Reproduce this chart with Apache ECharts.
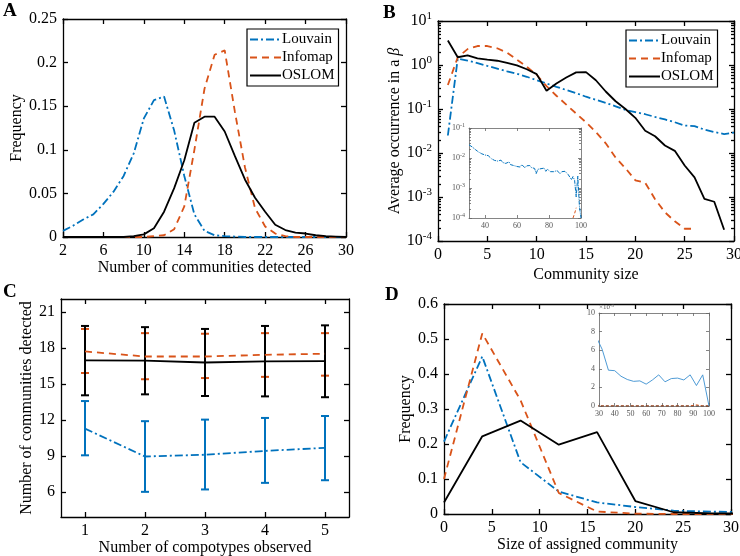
<!DOCTYPE html>
<html><head><meta charset="utf-8">
<script src="https://cdn.jsdelivr.net/npm/echarts@6/dist/echarts.min.js"></script>
<style>html,body{margin:0;padding:0;background:#fff}#c{width:740px;height:556px}</style>
</head><body><div id="c"></div>
<script>
// ---------- Panel A ----------
const aX = [2,3,4,5,6,7,8,9,10,11,12,13,14,15,16,17,18,19,20,21,22,23,24,25,26,27,28,29,30];
const aLouvain = [0.007,0.013,0.02,0.026,0.038,0.052,0.07,0.096,0.136,0.157,0.161,0.122,0.07,0.026,0.007,0.002,0.001,0.0005,0,0,0,0,0,0,0,0,0,0,0];
const aInfomap = [0,0,0,0,0,0,0,0,0,0.001,0.002,0.009,0.035,0.1,0.17,0.209,0.214,0.144,0.08,0.033,0.012,0.004,0.001,0,0,0,0,0,0];
const aOslom = [0,0,0,0,0,0,0,0.001,0.003,0.01,0.029,0.056,0.088,0.131,0.138,0.138,0.121,0.093,0.066,0.045,0.029,0.014,0.008,0.005,0.004,0.002,0.001,0.0005,0];
// ---------- Panel B ----------
const bX = [1,2,3,4,5,6,7,8,9,10,11,12,13,14,15,16,17,18,19,20,21,22,23,24,25,26,27,28,29,30];
const bLouvain = [0.025,1.40,1.26,1.10,0.955,0.83,0.72,0.63,0.54,0.45,0.38,0.32,0.27,0.23,0.19,0.162,0.138,0.115,0.095,0.085,0.076,0.066,0.058,0.050,0.042,0.041,0.034,0.030,0.027,0.029];
const bInfomap = [0.35,1.5,2.3,2.7,2.7,2.4,1.9,1.32,0.91,0.6,0.33,0.2,0.126,0.079,0.05,0.03,0.0166,0.0079,0.0045,0.0024,0.0021,0.00089,0.00045,0.00028,0.00019,0.00019];
const bOslom = [3.6,1.5,1.66,1.42,1.32,1.25,1.12,0.98,0.8,0.62,0.26,0.38,0.52,0.68,0.69,0.45,0.25,0.15,0.1,0.063,0.032,0.024,0.0148,0.0112,0.0052,0.0028,0.00091,0.00078,0.00018];
const bInsetX = [30,31,32,33,34,35,36,37,38,39,40,41,42,43,44,45,46,47,48,49,50,51,52,53,54,55,56,57,58,59,60,61,62,63,64,65,66,67,68,69,70,71,72,73,74,75,76,77,78,79,80,81,82,83,84,85,86,87,88,89,90,91,92,93,94,95,96,97,98,99,100];
const bInsetLouvain = [2.75e-2,2.51e-2,2.34e-2,2.09e-2,1.91e-2,1.78e-2,1.58e-2,1.66e-2,1.38e-2,1.32e-2,
  1.26e-2,1.12e-2,1.20e-2,1.05e-2,9.5e-3,1.0e-2,8.3e-3,8.9e-3,7.9e-3,7.6e-3,
  8.5e-3,7.1e-3,7.6e-3,6.6e-3,6.3e-3,7.4e-3,6.0e-3,6.8e-3,5.6e-3,6.3e-3,
  5.2e-3,5.8e-3,5.0e-3,6.0e-3,5.4e-3,4.7e-3,5.5e-3,5.0e-3,5.6e-3,4.8e-3,
  5.2e-3,4.5e-3,3.0e-3,4.2e-3,3.8e-3,4.4e-3,4.0e-3,4.6e-3,3.6e-3,4.2e-3,
  3.8e-3,3.5e-3,4.0e-3,3.5e-3,3.2e-3,3.8e-3,3.4e-3,3.0e-3,3.5e-3,3.3e-3,
  3.6e-3,3.2e-3,2.8e-3,3.2e-3,1.9e-3,2.4e-3,1.8e-3,5.0e-4,2.5e-3,2.5e-4,
  1.0e-4];
const bInsetInfomapX = [95,96,97];
const bInsetInfomap = [1.0e-4,1.4e-4,2.2e-4];
const bInsetXTicks = [40,60,80,100];
// ---------- Panel C ----------
const cX = [1,2,3,4,5];
const cLouvainMean = [11.28,8.95,9.1,9.42,9.67];
const cLouvainLow  = [9.05,6.0,6.2,6.75,6.97];
const cLouvainHigh = [13.58,11.9,12.03,12.17,12.33];
const cInfomapMean = [17.72,17.3,17.3,17.44,17.53];
const cInfomapLow  = [15.92,15.4,15.5,15.6,15.7];
const cInfomapHigh = [19.6,19.25,19.2,19.25,19.25];
const cOslomMean = [16.97,16.95,16.8,16.9,16.92];
const cOslomLow  = [14.06,14.14,14.0,13.97,13.9];
const cOslomHigh = [19.85,19.75,19.6,19.85,19.9];
const cYTicks = [6,9,12,15,18,21];
// ---------- Panel D ----------
const dX = [0,4,8,12,16,20,24,28,32];
const dLouvain = [0.207,0.45,0.148,0.064,0.033,0.02,0.0095,0.0065,0.006];
const dInfomap = [0.1,0.516,0.325,0.06,0.007,0.001,0,0,0];
const dOslom = [0.033,0.222,0.267,0.198,0.234,0.037,0.005,0.002,0.001];
const dInsetX = [28,32,36,40,44,48,52,56,60,64,68,72,76,80,84,88,92,96,100];
const dInsetLouvain = [7.5,6.1,3.85,3.8,3.2,2.85,2.65,2.7,2.35,2.8,3.35,2.6,2.95,3.0,2.8,3.35,2.2,3.35,0];
const dInsetInfomap = [0,0,0,0,0,0,0,0,0,0,0,0,0,0,0,0,0.12,0,0];
const dInsetOslom = [0,0,0,0,0,0,0,0,0,0,0,0,0,0,0,0,0,0,0];

const names = ['Louvain','Infomap','OSLOM'];
const FONT = 'Liberation Serif';
const BLUE = '#0072BD', ORANGE = '#D95319', BLACK = '#000000';
const DASHDOT = [8,3,2,3], DASHED = [7,5];

function pairs(xs, ys){ return ys.map((y,i)=>[xs[i], y]); }
function minorLog(lo, hi){ const out=[]; for(let e=lo;e<hi;e++){ for(let k=2;k<=9;k++) out.push(k*Math.pow(10,e)); } return out; }

const lineCol = {color:'#000', width:1.3};
function mainAxis(extra){
  return Object.assign({
    axisLine:{show:true,onZero:false,lineStyle:lineCol},
    axisTick:{show:true,inside:true,length:5,lineStyle:lineCol},
    axisLabel:{color:'#000',fontFamily:FONT,fontSize:16,margin:6},
    splitLine:{show:false},
    nameLocation:'middle',
    nameTextStyle:{color:'#000',fontFamily:FONT,fontSize:16}
  }, extra);
}
function mirror(base, pos){
  const o = JSON.parse(JSON.stringify(base));
  o.position = pos; o.name = '';
  o.axisLabel = Object.assign({}, o.axisLabel, {show:false});
  if (base.axisLabel && base.axisLabel.formatter) delete o.axisLabel.formatter;
  return o;
}
const insetCol = {color:'#666', width:0.8};
function insetAxis(extra){
  return Object.assign({
    z:6,
    axisLine:{show:true,onZero:false,lineStyle:insetCol},
    axisTick:{show:true,inside:true,length:3,lineStyle:insetCol},
    axisLabel:{color:'#555',fontFamily:FONT,fontSize:8,margin:4},
    splitLine:{show:false}
  }, extra);
}
const sup = (v)=>'{b|10}{s|' + Math.round(Math.log10(v)) + '}';

// x axes
const xA = mainAxis({gridIndex:0,type:'value',min:2,max:30,interval:4,name:'Number of communities detected',nameGap:22,position:'bottom'});
const xB = mainAxis({gridIndex:1,type:'value',min:0,max:30,interval:5,name:'Community size',nameGap:26,position:'bottom'});
const xC = mainAxis({gridIndex:2,type:'value',min:0.6,max:5.4,name:'Number of compotypes observed',nameGap:20,position:'bottom'});
xC.axisLabel.customValues = cX; xC.axisTick.customValues = cX;
const xD = mainAxis({gridIndex:3,type:'value',min:0,max:30,interval:5,name:'Size of assigned community',nameGap:22,position:'bottom'});
const xBi = insetAxis({gridIndex:4,type:'value',min:30,max:100,position:'bottom'});
xBi.axisLabel.customValues = bInsetXTicks; xBi.axisTick.customValues = bInsetXTicks;
const xDi = insetAxis({gridIndex:5,type:'value',min:30,max:100,interval:10,position:'bottom'});

// y axes
const yA = mainAxis({gridIndex:0,type:'value',min:0,max:0.25,interval:0.05,name:'Frequency',nameGap:37,position:'left'});
const yB = mainAxis({gridIndex:1,type:'log',logBase:10,min:1e-4,max:10,name:'Average occurrence in a {i|β}',nameGap:34,position:'left'});
yB.axisLabel.formatter = sup;
yB.axisLabel.rich = {b:{fontFamily:FONT,fontSize:16,color:'#000'}, s:{fontFamily:FONT,fontSize:11,color:'#000',verticalAlign:'top',padding:[0,0,9,0]}};
yB.nameTextStyle.rich = {i:{fontFamily:FONT,fontSize:16,fontStyle:'italic',color:'#000'}};
const yBminor = mainAxis({gridIndex:1,type:'log',logBase:10,min:1e-4,max:10,position:'left'});
yBminor.axisLine.show = false; yBminor.axisLabel = {show:false}; yBminor.axisTick.length = 3; yBminor.axisTick.customValues = minorLog(-4,1);
const yC = mainAxis({gridIndex:2,type:'value',min:3.9,max:22.1,name:'Number of communities detected',nameGap:23,position:'left'});
yC.axisLabel.customValues = cYTicks; yC.axisTick.customValues = cYTicks;
const yD = mainAxis({gridIndex:3,type:'value',min:0,max:0.6,interval:0.1,name:'Frequency',nameGap:30,position:'left'});
const yBi = insetAxis({gridIndex:4,type:'log',logBase:10,min:1e-4,max:1e-1,position:'left'});
yBi.axisLabel.formatter = sup;
yBi.axisLabel.rich = {b:{fontFamily:FONT,fontSize:8,color:'#555'}, s:{fontFamily:FONT,fontSize:6,color:'#555',verticalAlign:'top',padding:[0,0,5,0]}};
const yBiMinor = insetAxis({gridIndex:4,type:'log',logBase:10,min:1e-4,max:1e-1,position:'left'});
yBiMinor.axisLine.show = false; yBiMinor.axisLabel = {show:false}; yBiMinor.axisTick.length = 2; yBiMinor.axisTick.customValues = minorLog(-4,-1);
const yDi = insetAxis({gridIndex:5,type:'value',min:0,max:10,interval:2,position:'left',name:'{a|×10}{s|-3}',nameLocation:'end',nameGap:1,
  nameTextStyle:{align:'left',rich:{a:{fontFamily:FONT,fontSize:7,color:'#555'},s:{fontFamily:FONT,fontSize:5,color:'#555',verticalAlign:'top',padding:[0,0,4,0]}}}});

const xAxes = [xA, mirror(xA,'top'), xB, mirror(xB,'top'), xC, mirror(xC,'top'), xD, mirror(xD,'top'), xBi, mirror(xBi,'top'), xDi, mirror(xDi,'top')];
const yAxes = [yA, mirror(yA,'right'), yB, mirror(yB,'right'), yBminor, mirror(yBminor,'right'), yC, mirror(yC,'right'), yD, mirror(yD,'right'),
  yBi, mirror(yBi,'right'), yBiMinor, mirror(yBiMinor,'right'), yDi, mirror(yDi,'right')];

function line(name, data, color, dash, xi, yi, w, z){
  return {type:'line', name, data, xAxisIndex:xi, yAxisIndex:yi, symbol:'none', smooth:false, z:z||2,
    lineStyle:{color, width:w||1.8, type:dash||'solid'}, itemStyle:{color}, emphasis:{disabled:true}};
}
function errBars(name, color, lows, highs, yi){
  return {type:'custom', name, xAxisIndex:4, yAxisIndex:yi, z:2,
    data: cX.map((x,i)=>[x, lows[i], highs[i]]), encode:{x:0,y:[1,2]},
    renderItem:(params, api)=>{
      const x = api.value(0);
      const p1 = api.coord([x, api.value(1)]), p2 = api.coord([x, api.value(2)]);
      const w = 4, st = {stroke:color, lineWidth:2};
      return {type:'group', children:[
        {type:'line', shape:{x1:p1[0],y1:p1[1],x2:p2[0],y2:p2[1]}, style:st},
        {type:'line', shape:{x1:p1[0]-w,y1:p1[1],x2:p1[0]+w,y2:p1[1]}, style:st},
        {type:'line', shape:{x1:p2[0]-w,y1:p2[1],x2:p2[0]+w,y2:p2[1]}, style:st}]};
    }};
}

const series = [
  line('Louvain', pairs(aX,aLouvain), BLUE, DASHDOT, 0, 0),
  line('Infomap', pairs(aX,aInfomap), ORANGE, DASHED, 0, 0),
  line('OSLOM', pairs(aX,aOslom), BLACK, 'solid', 0, 0),
  line('Louvain', pairs(bX,bLouvain), BLUE, DASHDOT, 2, 2),
  line('Infomap', pairs(bX,bInfomap), ORANGE, DASHED, 2, 2),
  line('OSLOM', pairs(bX,bOslom), BLACK, 'solid', 2, 2),
  errBars('errL', BLUE, cLouvainLow, cLouvainHigh, 6),
  errBars('errI', ORANGE, cInfomapLow, cInfomapHigh, 6),
  errBars('errO', BLACK, cOslomLow, cOslomHigh, 6),
  line('Louvain', pairs(cX,cLouvainMean), BLUE, DASHDOT, 4, 6, 1.8, 3),
  line('Infomap', pairs(cX,cInfomapMean), ORANGE, DASHED, 4, 6, 1.8, 3),
  line('OSLOM', pairs(cX,cOslomMean), BLACK, 'solid', 4, 6, 1.8, 3),
  line('Louvain', pairs(dX,dLouvain), BLUE, DASHDOT, 6, 8),
  line('Infomap', pairs(dX,dInfomap), ORANGE, DASHED, 6, 8),
  line('OSLOM', pairs(dX,dOslom), BLACK, 'solid', 6, 8),
  line('Louvain', pairs(bInsetX,bInsetLouvain), BLUE, [4,1,1,1], 8, 10, 1, 7),
  line('Infomap', pairs(bInsetInfomapX,bInsetInfomap), ORANGE, [3,2], 8, 10, 1, 7),
  line('OSLOM', pairs(dInsetX,dInsetOslom), BLACK, [3,2], 10, 14, 1, 7),
  line('Infomap', pairs(dInsetX,dInsetInfomap), ORANGE, [3,2], 10, 14, 1, 7),
  line('Louvain', pairs(dInsetX,dInsetLouvain), '#3a8fd0', 'solid', 10, 14, 0.9, 8)
];

const legendBase = {data:names, orient:'vertical', itemWidth:31, itemHeight:15, itemGap:3, padding:[3,4,3,2],
  borderColor:'#000', borderWidth:1.2, borderRadius:0, backgroundColor:'#fff', selectedMode:false,
  itemStyle:{color:'rgba(0,0,0,0)', borderColor:'rgba(0,0,0,0)', borderWidth:0},
  textStyle:{fontFamily:FONT,fontSize:15,color:'#000',padding:[0,0,0,-4]}};

const letter = (t,x,y)=>({type:'text', x, y, z:20, style:{text:t, font:'bold 19px "Liberation Serif"', fill:'#000'}});

const option = {
  animation:false,
  backgroundColor:'#fff',
  grid:[
    {left:63, top:19, width:283, height:218, outerBoundsMode:'none'},
    {left:438, top:21, width:296, height:220, outerBoundsMode:'none'},
    {left:61, top:299, width:288, height:218, outerBoundsMode:'none'},
    {left:444, top:304, width:287, height:210, outerBoundsMode:'none'},
    {left:469, top:128, width:112, height:90, outerBoundsMode:'none', z:6},
    {left:599, top:313, width:110, height:93, outerBoundsMode:'none', z:6}
  ],
  xAxis: xAxes,
  yAxis: yAxes,
  legend:[Object.assign({left:247, top:29}, legendBase), Object.assign({left:626, top:30}, legendBase)],
  graphic:[
    {type:'rect', z:5, shape:{x:451, y:122, width:134, height:110}, style:{fill:'#fff'}},
    letter('A',3,2), letter('B',383,4), letter('C',3,283), letter('D',385,286)
  ],
  series
};
const chart = echarts.init(document.getElementById('c'), null, {renderer:'canvas'});
chart.setOption(option);
</script></body></html>
